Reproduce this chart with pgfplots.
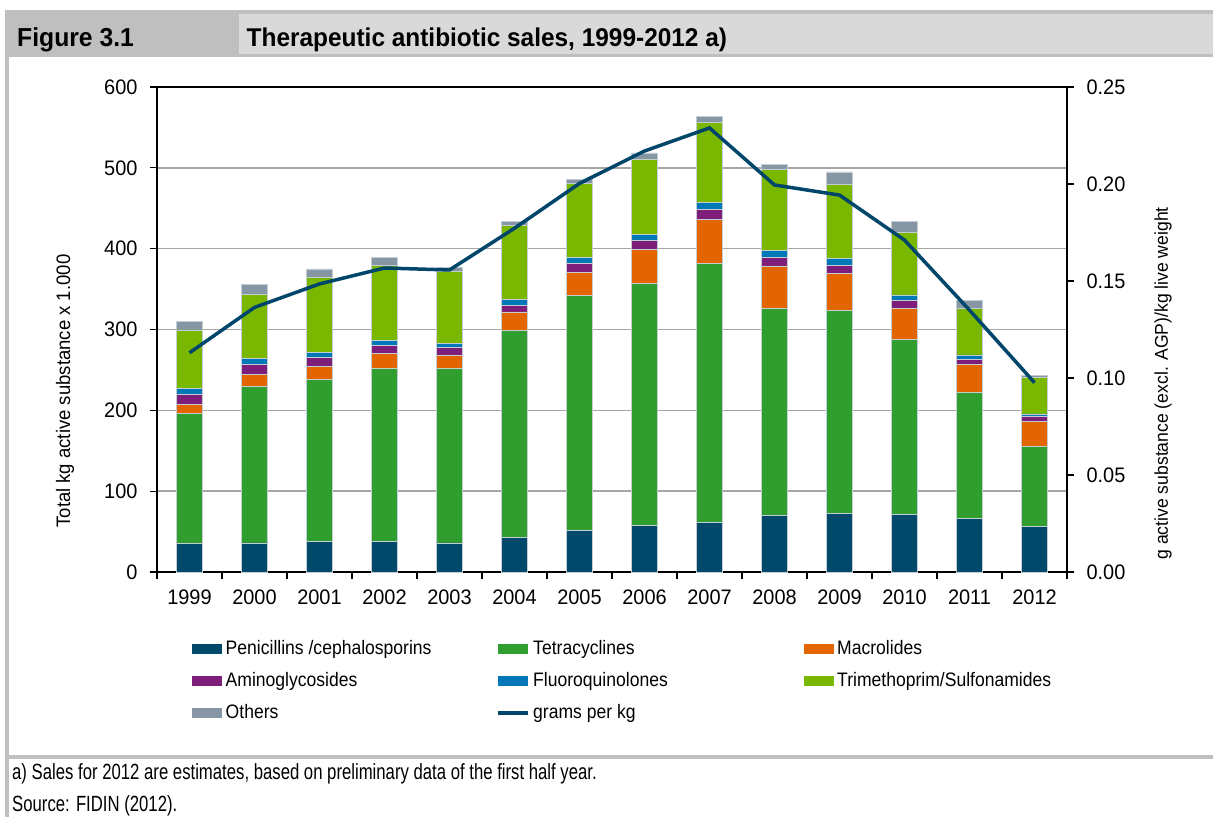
\documentclass[border=0pt]{standalone}
\usepackage{pgfplots}
\pgfplotsset{compat=1.18}
\usepackage{pgfplotstable}
\usepackage{fontspec}
\setmainfont{Liberation Sans}[FakeStretch=0.95]
\newfontfamily\fnfont{Liberation Sans}[FakeStretch=0.76]
\newfontfamily\legfont{Liberation Sans}[FakeStretch=0.9]
\definecolor{cPen}{HTML}{00496A}
\definecolor{cTet}{HTML}{2F9E2F}
\definecolor{cMac}{HTML}{E26500}
\definecolor{cAmi}{HTML}{7D1F7A}
\definecolor{cFlu}{HTML}{0077B6}
\definecolor{cTri}{HTML}{7AB800}
\definecolor{cOth}{HTML}{8796A5}
\definecolor{cLine}{HTML}{00466A}
\definecolor{hdrdark}{HTML}{BFBFBF}
\definecolor{hdrlight}{HTML}{D9D9D9}
\definecolor{barline}{HTML}{C4CDD4}
\pgfplotstableread{
x Pen Tet Mac Ami Flu Tri Oth Gpk
0 35.5 161.2 10.3 12.4 7.4 72.6 10.3 0.1130
1 35.9 193.8 14.9 11.9 7.4 79.1 12.5 0.1364
2 37.5 200.4 16.5 10.7 6.7 93.2 9.9 0.1485
3 37.5 214.1 19.3 9.5 5.8 93.6 9.9 0.1567
4 35.9 215.7 16.9 9.0 5.4 89.5 4.9 0.1557
5 42.5 256.1 23.1 8.6 7.4 90.8 5.7 0.1772
6 51.1 291.2 28.4 11.2 7.4 91.1 5.8 0.2003
7 57.3 300.2 42.1 10.7 7.0 93.7 7.4 0.2170
8 61.0 320.4 55.3 11.5 8.7 99.8 7.4 0.2289
9 69.7 256.9 52.0 10.3 8.6 100.3 6.6 0.1995
10 73.0 250.3 46.6 9.0 8.7 91.6 15.7 0.1943
11 70.9 217.0 38.7 9.1 7.0 77.6 13.1 0.1711
12 66.0 156.3 34.7 6.5 5.0 58.1 9.9 0.1350
13 56.0 99.0 31.8 5.4 3.3 45.4 2.8 0.0976
}\datatable
\pgfplotsset{
  sqleg/.style={legend image code/.code={\fill[##1,draw=none] (0pt,-5pt) rectangle (30pt,5pt);}},
  lnleg/.style={legend image code/.code={\draw[##1] (0pt,0pt) -- (30pt,0pt);}},
}
\newcommand{\lgt}[1]{\makebox[274pt][l]{\hspace{3.5pt}#1}}
\begin{document}
\begin{tikzpicture}[x=1pt,y=1pt]
\useasboundingbox (0,0) rectangle (1213,-817);
\fill[white] (0,0) rectangle (1213,-817);
\fill[hdrdark] (5,-10) rectangle (1213,-57);
\fill[hdrlight] (239,-14) rectangle (1213,-54);
\fill[hdrdark] (5,-57) rectangle (9,-817);
\fill[hdrdark] (5,-755) rectangle (1213,-759);
\node[anchor=base west, inner sep=0pt, font=\bfseries\fontsize{26}{30}\selectfont] at (17,-46.5) {Figure 3.1};
\node[anchor=base west, inner sep=0pt, font=\bfseries\fontsize{25.7}{30}\selectfont] at (246.5,-46.5) {Therapeutic antibiotic sales, 1999-2012 a)};
\node[anchor=base west, inner sep=0pt, font=\fnfont\fontsize{22}{26}\selectfont] at (12,-779.5) {a) Sales for 2012 are estimates, based on preliminary data of the first half year.};
\node[anchor=base west, inner sep=0pt, font=\fnfont\fontsize{22}{26}\selectfont] at (12,-811) {Source: FIDIN (2012).};
\begin{axis}[
  at={(157pt,-572pt)}, anchor=south west,
  scale only axis, width=910pt, height=485pt,
  ybar stacked, bar width=26pt,
  xmin=-0.5, xmax=13.5, ymin=0, ymax=600,
  xtick={-0.5,0.5,...,13.5}, x tick label as interval,
  xticklabels={1999,2000,2001,2002,2003,2004,2005,2006,2007,2008,2009,2010,2011,2012},
  ytick={0,100,200,300,400,500,600},
  xtick pos=bottom, ytick pos=left,
  tick align=outside, major tick length=7pt,
  tick style={black, line width=1.2pt},
  axis line style={black, line width=1.2pt},
  ymajorgrids, major grid style={line width=1.5pt, color=gray!70},
  /pgf/number format/assume math mode=true,
  tick label style={font=\fontsize{21}{25}\selectfont},
  xticklabel style={yshift=-7pt},
  yticklabel style={xshift=-9pt},
  ylabel={Total kg active substance x 1.000},
  ylabel style={at={(axis description cs:-0.101,0.373)}, anchor=center, font=\fontsize{19.5}{23}\selectfont},
  legend columns=3,
  legend style={at={(axis description cs:0.0385,-0.138)}, anchor=north west, draw=none, fill=none, inner sep=0pt,
    font=\legfont\fontsize{19.5}{23}\selectfont, row sep=12pt,
    nodes={inner sep=0pt, text height=15pt, text depth=5pt}},
  every axis plot/.append style={draw=barline, line width=0.8pt},
]
\addplot[fill=cPen, sqleg] table[x=x,y=Pen] {\datatable};
\addlegendentry{\lgt{Penicillins /cephalosporins}}
\addplot[fill=cTet, sqleg] table[x=x,y=Tet] {\datatable};
\addlegendentry{\lgt{Tetracyclines}}
\addplot[fill=cMac, sqleg] table[x=x,y=Mac] {\datatable};
\addlegendentry{\lgt{Macrolides}}
\addplot[fill=cAmi, sqleg] table[x=x,y=Ami] {\datatable};
\addlegendentry{\lgt{Aminoglycosides}}
\addplot[fill=cFlu, sqleg] table[x=x,y=Flu] {\datatable};
\addlegendentry{\lgt{Fluoroquinolones}}
\addplot[fill=cTri, sqleg] table[x=x,y=Tri] {\datatable};
\addlegendentry{\lgt{Trimethoprim/Sulfonamides}}
\addplot[fill=cOth, sqleg] table[x=x,y=Oth] {\datatable};
\addlegendentry{\lgt{Others}}
\addlegendimage{lnleg, cLine, line width=3.5pt}
\addlegendentry{\lgt{grams per kg}}
\end{axis}
\begin{axis}[
  at={(157pt,-572pt)}, anchor=south west,
  scale only axis, width=910pt, height=485pt,
  xmin=-0.5, xmax=13.5, ymin=0, ymax=0.25,
  axis x line=none, axis y line*=right,
  ytick={0,0.05,0.1,0.15,0.2,0.25},
  scaled y ticks=false,
  tick align=outside, major tick length=7pt,
  tick style={black, line width=1.2pt},
  axis line style={black, line width=1.2pt},
  /pgf/number format/assume math mode=true,
  tick label style={font=\fontsize{21}{25}\selectfont},
  yticklabel style={xshift=9pt, /pgf/number format/.cd, fixed, fixed zerofill, precision=2},
  ylabel={g active substance (excl. AGP)/kg live weight},
  ylabel style={at={(axis description cs:1.1055,0.389)}, anchor=center, font=\fontsize{18.5}{22}\selectfont},
]
\addplot[cLine, line width=3.5pt, mark=none] table[x=x,y=Gpk] {\datatable};
\end{axis}
\end{tikzpicture}
\end{document}
